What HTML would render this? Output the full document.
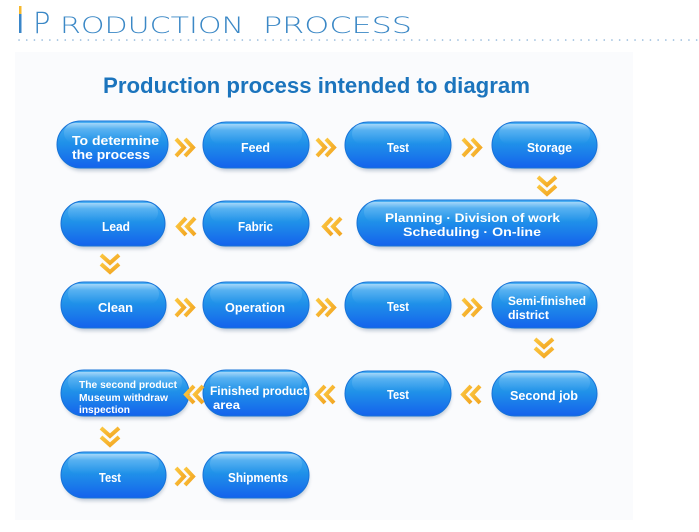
<!DOCTYPE html>
<html><head><meta charset="utf-8"><style>
html,body{margin:0;padding:0;background:#fff;}
svg{display:block;}
</style></head><body>
<svg width="699" height="532" viewBox="0 0 699 532" xmlns="http://www.w3.org/2000/svg">
<defs>
  <linearGradient id="pg" x1="0" y1="0" x2="0" y2="1">
    <stop offset="0" stop-color="#4cb0f3"/>
    <stop offset="0.45" stop-color="#2092e9"/>
    <stop offset="1" stop-color="#1462ec"/>
  </linearGradient>
  <linearGradient id="gl" x1="0" y1="0" x2="0" y2="1">
    <stop offset="0" stop-color="#ffffff" stop-opacity="0.5"/>
    <stop offset="0.3" stop-color="#ffffff" stop-opacity="0.15"/>
    <stop offset="1" stop-color="#ffffff" stop-opacity="0"/>
  </linearGradient>
  <linearGradient id="cg" x1="0" y1="0" x2="1" y2="1">
    <stop offset="0" stop-color="#fbc640"/>
    <stop offset="1" stop-color="#f2a522"/>
  </linearGradient>
  <filter id="sh" x="-20%" y="-20%" width="140%" height="160%">
    <feGaussianBlur stdDeviation="1.8"/>
  </filter>
</defs>

<!-- panel background -->
<rect x="15" y="52" width="618" height="468" fill="#fafbfd"/>

<!-- header -->
<rect x="19" y="6" width="2.5" height="8" fill="#f5b82e"/>
<rect x="19" y="14" width="2.5" height="19" fill="#3a86c8"/>
<text y="33" fill="#3b88c6" font-family="'DejaVu Sans','Liberation Sans',sans-serif" font-weight="200">
  <tspan x="33" font-size="29">P</tspan>
</text>
<text x="60" y="33" fill="#3b88c6" font-family="'DejaVu Sans','Liberation Sans',sans-serif" font-weight="200" font-size="22" textLength="184" lengthAdjust="spacingAndGlyphs">RODUCTION</text>
<text x="263" y="33" fill="#3b88c6" font-family="'DejaVu Sans','Liberation Sans',sans-serif" font-weight="200" font-size="22" textLength="149" lengthAdjust="spacingAndGlyphs">PROCESS</text>
<line x1="19" y1="40" x2="699" y2="40" stroke="#8db4d8" stroke-width="1.6" stroke-linecap="round" stroke-dasharray="0.1 7.6"/>

<!-- title -->
<text x="103" y="93" fill="#1b74bd" font-family="'Liberation Sans',sans-serif" font-weight="bold" font-size="22" textLength="427" lengthAdjust="spacingAndGlyphs">Production process intended to diagram</text>

<!-- pills -->
<g id="pills">
  <!-- Row 1 -->
  <g>
    <rect x="59" y="125" width="109" height="46" rx="23" fill="#7a8fa8" opacity="0.45" filter="url(#sh)"/>
    <rect x="57" y="121" width="111" height="47" rx="23.5" fill="url(#pg)" stroke="#1773d8" stroke-width="1"/>
    <rect x="64" y="123" width="97" height="20" rx="10" fill="url(#gl)"/>
  </g>
  <g>
    <rect x="205" y="126" width="104" height="45" rx="22.5" fill="#7a8fa8" opacity="0.45" filter="url(#sh)"/>
    <rect x="203" y="122" width="106" height="46" rx="23" fill="url(#pg)" stroke="#1773d8" stroke-width="1"/>
    <rect x="210" y="124" width="92" height="20" rx="10" fill="url(#gl)"/>
  </g>
  <g>
    <rect x="347" y="126" width="104" height="45" rx="22.5" fill="#7a8fa8" opacity="0.45" filter="url(#sh)"/>
    <rect x="345" y="122" width="106" height="46" rx="23" fill="url(#pg)" stroke="#1773d8" stroke-width="1"/>
    <rect x="352" y="124" width="92" height="20" rx="10" fill="url(#gl)"/>
  </g>
  <g>
    <rect x="494" y="126" width="103" height="45" rx="22.5" fill="#7a8fa8" opacity="0.45" filter="url(#sh)"/>
    <rect x="492" y="122" width="105" height="46" rx="23" fill="url(#pg)" stroke="#1773d8" stroke-width="1"/>
    <rect x="499" y="124" width="91" height="20" rx="10" fill="url(#gl)"/>
  </g>
  <!-- Row 2 -->
  <g>
    <rect x="63" y="205" width="102" height="44" rx="22" fill="#7a8fa8" opacity="0.45" filter="url(#sh)"/>
    <rect x="61" y="201" width="104" height="45" rx="22.5" fill="url(#pg)" stroke="#1773d8" stroke-width="1"/>
    <rect x="68" y="203" width="90" height="19" rx="9.5" fill="url(#gl)"/>
  </g>
  <g>
    <rect x="205" y="205" width="104" height="44" rx="22" fill="#7a8fa8" opacity="0.45" filter="url(#sh)"/>
    <rect x="203" y="201" width="106" height="45" rx="22.5" fill="url(#pg)" stroke="#1773d8" stroke-width="1"/>
    <rect x="210" y="203" width="92" height="19" rx="9.5" fill="url(#gl)"/>
  </g>
  <g>
    <rect x="359" y="204" width="238" height="45" rx="22.5" fill="#7a8fa8" opacity="0.45" filter="url(#sh)"/>
    <rect x="357" y="200" width="240" height="46" rx="23" fill="url(#pg)" stroke="#1773d8" stroke-width="1"/>
    <rect x="364" y="202" width="226" height="20" rx="10" fill="url(#gl)"/>
  </g>
  <!-- Row 3 -->
  <g>
    <rect x="63" y="286" width="103" height="45" rx="22.5" fill="#7a8fa8" opacity="0.45" filter="url(#sh)"/>
    <rect x="61" y="282" width="105" height="46" rx="23" fill="url(#pg)" stroke="#1773d8" stroke-width="1"/>
    <rect x="68" y="284" width="91" height="20" rx="10" fill="url(#gl)"/>
  </g>
  <g>
    <rect x="205" y="286" width="104" height="45" rx="22.5" fill="#7a8fa8" opacity="0.45" filter="url(#sh)"/>
    <rect x="203" y="282" width="106" height="46" rx="23" fill="url(#pg)" stroke="#1773d8" stroke-width="1"/>
    <rect x="210" y="284" width="92" height="20" rx="10" fill="url(#gl)"/>
  </g>
  <g>
    <rect x="347" y="286" width="104" height="45" rx="22.5" fill="#7a8fa8" opacity="0.45" filter="url(#sh)"/>
    <rect x="345" y="282" width="106" height="46" rx="23" fill="url(#pg)" stroke="#1773d8" stroke-width="1"/>
    <rect x="352" y="284" width="92" height="20" rx="10" fill="url(#gl)"/>
  </g>
  <g>
    <rect x="494" y="286" width="103" height="45" rx="22.5" fill="#7a8fa8" opacity="0.45" filter="url(#sh)"/>
    <rect x="492" y="282" width="105" height="46" rx="23" fill="url(#pg)" stroke="#1773d8" stroke-width="1"/>
    <rect x="499" y="284" width="91" height="20" rx="10" fill="url(#gl)"/>
  </g>
  <!-- Row 4 -->
  <g>
    <rect x="63" y="374" width="126" height="45" rx="22.5" fill="#7a8fa8" opacity="0.45" filter="url(#sh)"/>
    <rect x="61" y="370" width="128" height="46" rx="23" fill="url(#pg)" stroke="#1773d8" stroke-width="1"/>
    <rect x="68" y="372" width="114" height="20" rx="10" fill="url(#gl)"/>
  </g>
  <g>
    <rect x="205" y="374" width="104" height="45" rx="22.5" fill="#7a8fa8" opacity="0.45" filter="url(#sh)"/>
    <rect x="203" y="370" width="106" height="46" rx="23" fill="url(#pg)" stroke="#1773d8" stroke-width="1"/>
    <rect x="210" y="372" width="92" height="20" rx="10" fill="url(#gl)"/>
  </g>
  <g>
    <rect x="347" y="375" width="104" height="44" rx="22" fill="#7a8fa8" opacity="0.45" filter="url(#sh)"/>
    <rect x="345" y="371" width="106" height="45" rx="22.5" fill="url(#pg)" stroke="#1773d8" stroke-width="1"/>
    <rect x="352" y="373" width="92" height="19" rx="9.5" fill="url(#gl)"/>
  </g>
  <g>
    <rect x="494" y="375" width="103" height="44" rx="22" fill="#7a8fa8" opacity="0.45" filter="url(#sh)"/>
    <rect x="492" y="371" width="105" height="45" rx="22.5" fill="url(#pg)" stroke="#1773d8" stroke-width="1"/>
    <rect x="499" y="373" width="91" height="19" rx="9.5" fill="url(#gl)"/>
  </g>
  <!-- Row 5 -->
  <g>
    <rect x="63" y="456" width="103" height="45" rx="22.5" fill="#7a8fa8" opacity="0.45" filter="url(#sh)"/>
    <rect x="61" y="452" width="105" height="46" rx="23" fill="url(#pg)" stroke="#1773d8" stroke-width="1"/>
    <rect x="68" y="454" width="91" height="20" rx="10" fill="url(#gl)"/>
  </g>
  <g>
    <rect x="205" y="456" width="104" height="45" rx="22.5" fill="#7a8fa8" opacity="0.45" filter="url(#sh)"/>
    <rect x="203" y="452" width="106" height="46" rx="23" fill="url(#pg)" stroke="#1773d8" stroke-width="1"/>
    <rect x="210" y="454" width="92" height="20" rx="10" fill="url(#gl)"/>
  </g>
</g>

<!-- pill labels -->
<g fill="#ffffff" font-family="'Liberation Sans',sans-serif" font-weight="bold" font-size="13">
  <text x="72" y="145" textLength="87" lengthAdjust="spacingAndGlyphs">To determine</text>
  <text x="72" y="159" textLength="78" lengthAdjust="spacingAndGlyphs">the process</text>
  <text x="241" y="152" textLength="29" lengthAdjust="spacingAndGlyphs">Feed</text>
  <text x="387" y="152" textLength="22" lengthAdjust="spacingAndGlyphs">Test</text>
  <text x="527" y="152" textLength="45" lengthAdjust="spacingAndGlyphs">Storage</text>

  <text x="102" y="231" textLength="28" lengthAdjust="spacingAndGlyphs">Lead</text>
  <text x="238" y="231" textLength="35" lengthAdjust="spacingAndGlyphs">Fabric</text>
  <text x="385" y="222" font-size="12" textLength="175" lengthAdjust="spacingAndGlyphs">Planning · Division of work</text>
  <text x="403" y="236" font-size="12" textLength="138" lengthAdjust="spacingAndGlyphs">Scheduling · On-line</text>

  <text x="98" y="312" textLength="35" lengthAdjust="spacingAndGlyphs">Clean</text>
  <text x="225" y="312" textLength="60" lengthAdjust="spacingAndGlyphs">Operation</text>
  <text x="387" y="311" textLength="22" lengthAdjust="spacingAndGlyphs">Test</text>
  <text x="508" y="305" font-size="12" textLength="78" lengthAdjust="spacingAndGlyphs">Semi-finished</text>
  <text x="508" y="319" font-size="12" textLength="41" lengthAdjust="spacingAndGlyphs">district</text>

  <text x="79" y="388" font-size="10" textLength="98" lengthAdjust="spacingAndGlyphs">The second product</text>
  <text x="79" y="401" font-size="10" textLength="89" lengthAdjust="spacingAndGlyphs">Museum withdraw</text>
  <text x="79" y="413" font-size="10" textLength="51" lengthAdjust="spacingAndGlyphs">inspection</text>
  <text x="210" y="395" font-size="12" textLength="97" lengthAdjust="spacingAndGlyphs">Finished product</text>
  <text x="213" y="409" font-size="12" textLength="27" lengthAdjust="spacingAndGlyphs">area</text>
  <text x="387" y="399" textLength="22" lengthAdjust="spacingAndGlyphs">Test</text>
  <text x="510" y="400" textLength="68" lengthAdjust="spacingAndGlyphs">Second job</text>

  <text x="99" y="482" textLength="22" lengthAdjust="spacingAndGlyphs">Test</text>
  <text x="228" y="482" textLength="60" lengthAdjust="spacingAndGlyphs">Shipments</text>
</g>

<!-- chevrons -->
<g fill="none" stroke="url(#cg)" stroke-width="4" stroke-linejoin="miter" stroke-linecap="butt">
  <!-- right-pointing -->
  <g transform="translate(175,138)"><polyline points="1,1 9,9.5 1,18"/><polyline points="10,1 18,9.5 10,18"/></g>
  <g transform="translate(316,138)"><polyline points="1,1 9,9.5 1,18"/><polyline points="10,1 18,9.5 10,18"/></g>
  <g transform="translate(462,138)"><polyline points="1,1 9,9.5 1,18"/><polyline points="10,1 18,9.5 10,18"/></g>

  <g transform="translate(175,298)"><polyline points="1,1 9,9.5 1,18"/><polyline points="10,1 18,9.5 10,18"/></g>
  <g transform="translate(316,298)"><polyline points="1,1 9,9.5 1,18"/><polyline points="10,1 18,9.5 10,18"/></g>
  <g transform="translate(462,298)"><polyline points="1,1 9,9.5 1,18"/><polyline points="10,1 18,9.5 10,18"/></g>

  <g transform="translate(175,467)"><polyline points="1,1 9,9.5 1,18"/><polyline points="10,1 18,9.5 10,18"/></g>

  <!-- left-pointing -->
  <g transform="translate(176,217)"><polyline points="19,1 11,9.5 19,18"/><polyline points="10,1 2,9.5 10,18"/></g>
  <g transform="translate(322,217)"><polyline points="19,1 11,9.5 19,18"/><polyline points="10,1 2,9.5 10,18"/></g>

  <g transform="translate(184,385)"><polyline points="19,1 11,9.5 19,18"/><polyline points="10,1 2,9.5 10,18"/></g>
  <g transform="translate(315,385)"><polyline points="19,1 11,9.5 19,18"/><polyline points="10,1 2,9.5 10,18"/></g>
  <g transform="translate(461,385)"><polyline points="19,1 11,9.5 19,18"/><polyline points="10,1 2,9.5 10,18"/></g>

  <!-- down-pointing -->
  <g transform="translate(537,176)"><polyline points="1,1 10,9 19,1"/><polyline points="1,10 10,18 19,10"/></g>
  <g transform="translate(100,254)"><polyline points="1,1 10,9 19,1"/><polyline points="1,10 10,18 19,10"/></g>
  <g transform="translate(534,338)"><polyline points="1,1 10,9 19,1"/><polyline points="1,10 10,18 19,10"/></g>
  <g transform="translate(100,427)"><polyline points="1,1 10,9 19,1"/><polyline points="1,10 10,18 19,10"/></g>
</g>
</svg>
</body></html>
